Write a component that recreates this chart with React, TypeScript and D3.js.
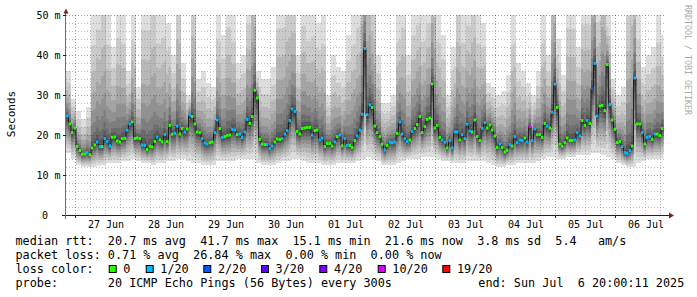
import React, { useEffect } from 'react';
import * as d3 from 'd3';

// ---------- data ----------
// hourly median RTT (ms), 26 Jun 20:00 -> 06 Jul 20:00
const medianRtt: number[] = [
  24.75, 22.75, 20.6, 21.75, 17.1, 16.1, 15.2, 15.25, 15.6, 15.1,
  16.75, 17.5, 18.25, 17.1, 17.1, 19.1, 18.4, 17.3, 19.4, 19.5,
  18.5, 18.25, 19.1, 19.2, 21.2, 22.75, 23.25, 19.1, 19.25, 19.1,
  17.5, 17.4, 16.4, 17.2, 17.0, 18.4, 19.5, 18.75, 18.3, 20.1,
  18.4, 22.4, 20.2, 20.4, 22.25, 20.25, 21.6, 20.75, 21.5, 25.0,
  24.6, 22.75, 20.75, 20.6, 19.1, 18.0, 17.75, 18.1, 18.25, 20.6,
  23.75, 21.6, 19.4, 19.6, 19.9, 20.0, 21.4, 21.25, 20.1, 20.25,
  19.4, 20.75, 23.9, 22.9, 24.6, 31.2, 29.25, 18.9, 17.75, 17.6,
  17.6, 16.6, 17.25, 18.25, 19.0, 18.9, 19.1, 20.25, 21.1, 23.6,
  26.5, 25.9, 20.9, 20.25, 21.6, 21.75, 21.9, 21.9, 20.0, 21.1,
  21.25, 18.75, 19.25, 17.1, 17.9, 17.9, 17.25, 18.25, 19.6, 20.0,
  17.3, 19.1, 17.4, 17.4, 16.9, 18.6, 19.75, 21.25, 25.2, 41.6,
  25.1, 27.5, 26.9, 22.25, 20.6, 19.6, 17.7, 16.25, 17.4, 18.2,
  18.1, 18.25, 20.4, 23.25, 20.25, 19.1, 18.4, 18.75, 20.9, 21.6,
  22.6, 24.6, 20.6, 22.1, 23.9, 24.25, 32.75, 21.75, 22.4, 19.4,
  18.75, 18.2, 16.75, 18.6, 16.8, 20.75, 20.75, 18.75, 20.1, 19.1,
  22.7, 21.0, 20.75, 23.75, 19.6, 18.6, 21.7, 23.1, 21.75, 22.5,
  21.25, 19.75, 16.9, 17.75, 16.9, 15.75, 16.2, 17.6, 17.25, 19.6,
  18.1, 18.75, 18.6, 19.25, 18.25, 22.1, 18.6, 21.5, 20.1, 20.1,
  19.4, 22.9, 22.25, 21.75, 25.7, 32.7, 26.9, 17.75, 17.2, 18.1,
  19.25, 18.6, 18.6, 18.75, 20.6, 19.75, 23.6, 22.4, 23.6, 22.9,
  31.6, 37.9, 24.75, 27.25, 27.4, 26.1, 37.6, 27.6, 23.75, 21.4,
  18.1, 18.4, 17.1, 15.6, 15.4, 16.1, 17.25, 34.25, 22.75, 22.75,
  20.6, 17.75, 19.4, 19.6, 18.9, 20.25, 20.25, 19.9, 21.6,
];

// indices of hours with 1/20, 2/20 and 10/20 packet loss
const loss1Idx: number[] = [
  0, 8, 12, 13, 15, 16, 17, 24, 25, 30, 31, 36, 39, 43, 44, 47, 49, 54, 55, 56, 59,
  60, 62, 66, 67, 69, 70, 71, 72, 80, 81, 82, 86, 87, 88, 89, 90, 91, 98, 101, 102,
  107, 109, 111, 112, 116, 117, 118, 119,
  120, 121, 127, 129, 130, 131, 133, 134, 135, 136, 138, 150, 151, 153, 154, 155,
  156, 158, 159, 160, 161, 166, 167, 173, 177, 179,
  180, 181, 182, 184, 186, 187, 192, 194, 195, 203, 204, 205, 208, 211, 212, 217,
  222, 223, 224, 225, 227, 230, 232, 233, 235,
];
const loss2Idx: number[] = [210];
const loss10Idx: number[] = [185];

// smoke extents per 2-hour column (ms): highest ping and lowest ping
const smokeHi: number[] = [
  36, 29, 26, 24, 27, 50, 55, 60, 50, 42,
  52, 50, 36, 50, 32, 55, 55, 60, 50, 52,
  48, 40, 60, 38, 30, 60, 34, 36, 33, 32,
  50, 45, 55, 50, 38, 40, 55, 70, 36, 34,
  34, 37, 55, 55, 60, 60, 40, 55, 50, 52,
  48, 50, 30, 40, 37, 36, 45, 50, 55, 80,
  70, 60, 40, 28, 28, 30, 50, 55, 40, 52,
  55, 50, 55, 70, 50, 45, 30, 42, 60, 50,
  55, 60, 50, 48, 33, 32, 30, 31, 35, 50,
  38, 36, 33, 30, 36, 50, 40, 70, 44, 35,
  55, 55, 42, 55, 55, 75, 55, 75, 50, 34,
  30, 32, 60, 70, 50, 37, 40, 42, 50, 45,
];
const smokeLo: number[] = [
  15.5, 14, 12.5, 12, 12, 12, 12.3, 12.5, 13, 13,
  13, 13.5, 13.5, 14, 13.5, 13, 13, 12.5, 13, 13,
  13.5, 13.5, 14, 14, 13.5, 13, 13, 12.5, 12.5, 12.5,
  13.5, 13.5, 13.5, 13.5, 14, 14, 14, 14, 13, 12.5,
  12.5, 12.5, 13, 13.5, 13.5, 14, 14, 13.5, 13, 13,
  13, 12.5, 12.5, 12.5, 13, 13, 13, 13, 13.5, 14,
  14.5, 14, 13.5, 12.5, 12.5, 12.5, 13, 13.5, 14, 14,
  14, 14.5, 14.5, 14.5, 14, 13.5, 13.5, 13, 13, 13,
  13.5, 13.5, 13.5, 13.5, 13, 12.5, 12, 12, 12.5, 12.5,
  13, 13, 13, 13, 13.5, 14, 14.5, 14.5, 14, 14,
  14.5, 14.5, 15, 15, 15, 15.5, 15.5, 15, 14.5, 14,
  13, 12.5, 12, 12, 13, 13.5, 14, 14, 14, 14,
];

const yTicks: number[] = [0, 10, 20, 30, 40, 50];
const lossLegend: string[] = ['0', '1/20', '2/20', '3/20', '4/20', '10/20', '19/20'];
const lossColors: string[] = ['#26ff00', '#00b8ff', '#0059ff', '#5e00ff', '#7e00ff', '#dd00ff', '#ff0000'];
const lossLegendBoxX: number[] = [108.7, 145.7, 203.3, 261, 319.3, 377.7, 442.3];

const legendLine1 = 'median rtt:  20.7 ms avg  41.7 ms max  15.1 ms min  21.6 ms now  3.8 ms sd  5.4   am/s';
const legendLine2 = 'packet loss: 0.71 % avg  26.84 % max  0.00 % min  0.00 % now';
const legendLine4 = 'probe:       20 ICMP Echo Pings (56 Bytes) every 300s';
const endText = 'end: Sun Jul  6 20:00:11 2025';

const START = Date.UTC(2025, 5, 26, 20, 0, 11);
const END = Date.UTC(2025, 6, 6, 20, 0, 11);

const MONO = '"DejaVu Sans Mono", "Liberation Mono", monospace';
const PRE: React.CSSProperties = { whiteSpace: 'pre' };

export default function App() {
  useEffect(() => {
    document.body.style.margin = '0';
  }, []);

  const L = 66, R = 666, T = 15, B = 215;
  const n = medianRtt.length;
  const x = d3.scaleLinear().domain([0, 240]).range([L, R]);
  const t = d3.scaleUtc().domain([new Date(START), new Date(END)]).range([L, R]);
  const y = d3.scaleLinear().domain([0, 50]).range([B, T]);

  const lossOf = (i: number) =>
    loss10Idx.includes(i) ? 5 : loss2Idx.includes(i) ? 2 : loss1Idx.includes(i) ? 1 : 0;

  // smoke layers, outer (light) to inner (dark)
  const idx = d3.range(n + 1);
  const layers: { d: string; fill: string }[] = [];
  for (let k = 1; k <= 10; k++) {
    const fu = Math.pow((11 - k) / 10, 2.5);
    const fl = Math.pow((11 - k) / 10, 1.5);
    const g = 50 + 19 * (10 - k);
    const area = d3
      .area<number>()
      .x((i) => x(i))
      .y0((i) => {
        const j = Math.min(i, n - 1);
        const m = medianRtt[j];
        const lo = smokeLo[Math.floor(j / 2)];
        return y(m - (m - lo) * fl);
      })
      .y1((i) => {
        const j = Math.min(i, n - 1);
        const m = medianRtt[j];
        const hi = smokeHi[Math.floor(j / 2)];
        return y(Math.min(50, m + (hi - m) * fu));
      })
      .curve(d3.curveStepAfter);
    const hex = g.toString(16).padStart(2, '0');
    layers.push({ d: area(idx) || '', fill: `#${hex}${hex}${hex}` });
  }

  const medLine = d3
    .line<number>()
    .x((i) => x(i))
    .y((i) => y(medianRtt[Math.min(i, n - 1)]))
    .curve(d3.curveStepAfter)(idx) || '';

  const hours = t.ticks(d3.utcHour.every(6)!);
  const days = d3.utcDay.range(new Date(START), new Date(END));
  const noons = days.map((d) => new Date(d.getTime() + 12 * 3600 * 1000)).filter((d) => d.getTime() < END);
  const fmt = d3.utcFormat('%d %b');

  const minorY = d3.range(2, 50, 2).filter((v) => v % 10 !== 0);
  const majorY = [10, 20, 30, 40, 50];

  return (
    <svg width={697} height={297} style={{ position: 'absolute', left: 0, top: 0, background: '#fff' }}>
      <rect x={0} y={0} width={697} height={297} fill="#ffffff" />
      <g>
        {layers.map((l, i) => (
          <path key={i} d={l.d} fill={l.fill} />
        ))}
      </g>
      {/* grid */}
      <g fill="none" strokeWidth={1} strokeDasharray="1,2">
        {minorY.map((v) => (
          <line key={'my' + v} x1={L} x2={R} y1={y(v) + 0.5} y2={y(v) + 0.5} stroke="rgba(140,140,140,0.55)" />
        ))}
        {hours
          .filter((h) => h.getUTCHours() !== 0)
          .map((h, i) => (
            <line key={'mx' + i} x1={Math.round(t(h)) - 0.5} x2={Math.round(t(h)) - 0.5} y1={T} y2={B} stroke="rgba(140,140,140,0.55)" />
          ))}
        {majorY.map((v) => (
          <line key={'My' + v} x1={L} x2={R} y1={y(v) + 0.5} y2={y(v) + 0.5} stroke="rgba(150,30,30,0.5)" />
        ))}
        {days
          .filter((d) => d.getTime() > START)
          .map((d, i) => (
            <line key={'Mx' + i} x1={Math.round(t(d)) - 0.5} x2={Math.round(t(d)) - 0.5} y1={T} y2={B} stroke="rgba(150,30,30,0.5)" />
          ))}
      </g>
      {/* median */}
      <path d={medLine} fill="none" stroke="#202020" strokeWidth={1} />
      <g>
        {medianRtt.map((m, i) => (
          <rect key={i} x={x(i)} y={y(m) - 1.5} width={x(i + 1) - x(i)} height={3} fill={lossColors[lossOf(i)]} />
        ))}
      </g>
      {/* axes */}
      <line x1={62} x2={670} y1={215.5} y2={215.5} stroke="#1f1f1f" />
      <line x1={65.5} x2={65.5} y1={12} y2={219} stroke="#707070" />
      {days
        .filter((d) => d.getTime() > START)
        .map((d, i) => (
          <line key={'tk' + i} x1={Math.round(t(d)) - 0.5} x2={Math.round(t(d)) - 0.5} y1={215} y2={218} stroke="#1f1f1f" />
        ))}
      {majorY.map((v) => (
        <line key={'yt' + v} x1={63} x2={66} y1={y(v) + 0.5} y2={y(v) + 0.5} stroke="#1f1f1f" />
      ))}
      <path d="M63.5,13.5 L66,8.5 L68.5,13.5 Z" fill="#7f1f1f" />
      <path d="M669,212.5 L674,215.5 L669,218.5 Z" fill="#7f1f1f" />
      {/* y labels */}
      <g fontFamily={MONO} fontSize={10} fill="#000">
        {yTicks.map((v) => (
          <text key={v} x={v === 0 ? 48 : 60.5} y={y(v) + 3.5} textAnchor="end" xmlSpace="preserve" style={PRE}>
            {v === 0 ? '0' : `${v} m`}
          </text>
        ))}
        {noons.map((d, i) => (
          <text key={'xl' + i} x={t(d)} y={228} textAnchor="middle" xmlSpace="preserve" style={PRE}>
            {fmt(d)}
          </text>
        ))}
      </g>
      <text x={15} y={114} transform="rotate(-90 15 114)" textAnchor="middle" fontFamily={MONO} fontSize={11} fill="#000">
        Seconds
      </text>
      <text x={685} y={5} transform="rotate(90 685 5)" fontFamily={MONO} fontSize={8.3} fill="#aaaaaa" xmlSpace="preserve" style={PRE}>
        RRDTOOL / TOBI OETIKER
      </text>
      {/* legend */}
      <g fontFamily={MONO} fontSize={11.8} fill="#000">
        <text x={15.5} y={245.3} xmlSpace="preserve" style={PRE}>{legendLine1}</text>
        <text x={15.5} y={259.3} xmlSpace="preserve" style={PRE}>{legendLine2}</text>
        <text x={15.5} y={273.3} xmlSpace="preserve" style={PRE}>loss color:</text>
        {lossLegend.map((lbl, i) => (
          <g key={lbl}>
            <rect x={lossLegendBoxX[i] + 0.5} y={265.5} width={7} height={7} fill={lossColors[i]} stroke="#000" strokeWidth={1} />
            <text x={lossLegendBoxX[i] + 14.6} y={273.3} xmlSpace="preserve" style={PRE}>{lbl}</text>
          </g>
        ))}
        <text x={15.5} y={287.3} xmlSpace="preserve" style={PRE}>{legendLine4}</text>
        <text x={478.3} y={287.3} xmlSpace="preserve" style={PRE}>{endText}</text>
      </g>
    </svg>
  );
}
